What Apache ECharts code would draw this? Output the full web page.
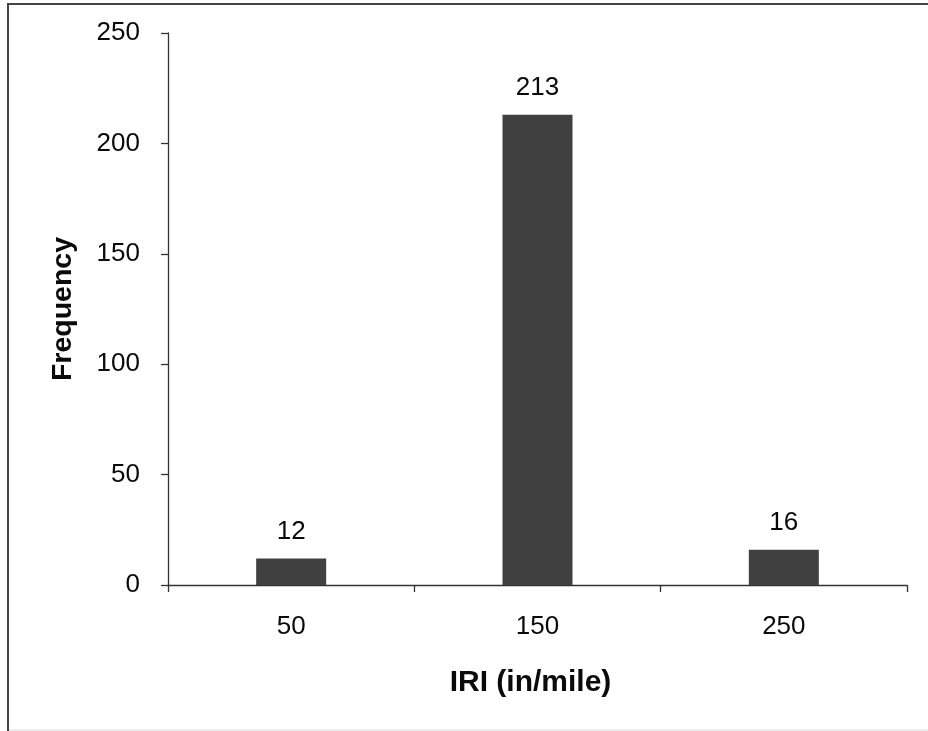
<!DOCTYPE html>
<html>
<head>
<meta charset="utf-8">
<script src="https://cdn.jsdelivr.net/npm/echarts@6/dist/echarts.min.js"></script>
<style>
  html, body { margin: 0; padding: 0; background: #fff; }
  #chart { width: 928px; height: 731px; }
</style>
</head>
<body>
<div id="chart"></div>
<script>
// IRI histogram: bin centres and counts
const iriBins = ['50', '150', '250'];
const frequency = [12, 213, 16];
const yTicks = { min: 0, max: 250, interval: 50 };

const FONT = '"Liberation Sans", Arial, sans-serif';
const ink = '#0a0a0a';
const axisColor = '#333';

const chart = echarts.init(document.getElementById('chart'), null, { renderer: 'canvas' });

chart.setOption({
  animation: false,
  backgroundColor: '#fff',
  textStyle: { fontFamily: FONT },
  grid: { left: 168, right: 21, top: 33, bottom: 146, containLabel: false },
  xAxis: {
    type: 'category',
    data: iriBins,
    name: 'IRI (in/mile)',
    nameLocation: 'middle',
    nameGap: 83,
    nameTextStyle: { fontFamily: FONT, fontSize: 30, fontWeight: 'bold', color: ink, padding: [0, 14, 0, 0] },
    axisLine: { lineStyle: { color: axisColor, width: 1.3 } },
    axisTick: { show: true, length: 7, inside: false, lineStyle: { color: axisColor, width: 1.3 } },
    axisLabel: { fontFamily: FONT, fontSize: 26, color: ink, margin: 29 },
    splitLine: { show: false }
  },
  yAxis: {
    type: 'value',
    min: yTicks.min,
    max: yTicks.max,
    interval: yTicks.interval,
    name: 'Frequency',
    nameLocation: 'middle',
    nameGap: 90,
    nameRotate: 90,
    nameTextStyle: { fontFamily: FONT, fontSize: 28.5, fontWeight: 'bold', color: ink },
    axisLine: { show: true, lineStyle: { color: axisColor, width: 1.3 } },
    axisTick: { show: true, length: 7, lineStyle: { color: axisColor, width: 1.3 } },
    axisLabel: { fontFamily: FONT, fontSize: 26, color: ink, margin: 28 },
    splitLine: { show: false }
  },
  series: [{
    type: 'bar',
    data: frequency,
    barWidth: 70,
    itemStyle: { color: '#404040' },
    label: {
      show: true,
      position: 'top',
      distance: 14,
      fontFamily: FONT,
      fontSize: 26,
      color: ink
    }
  }],
  graphic: [
    { type: 'line', shape: { x1: 8, y1: 4, x2: 928, y2: 4 }, style: { stroke: '#444', lineWidth: 2 } },
    { type: 'line', shape: { x1: 8, y1: 3, x2: 8, y2: 731 }, style: { stroke: '#444', lineWidth: 2 } },
    { type: 'line', shape: { x1: 9, y1: 730, x2: 928, y2: 730 }, style: { stroke: '#e6e6e6', lineWidth: 1.5 } }
  ]
});
</script>
</body>
</html>
